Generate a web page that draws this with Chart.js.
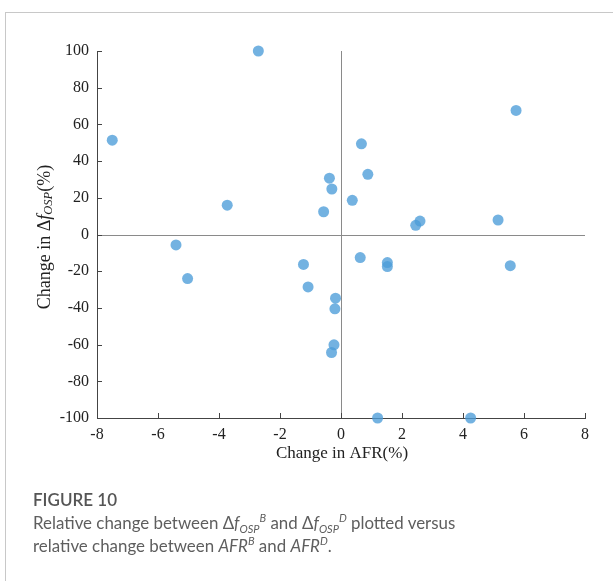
<!DOCTYPE html>
<html><head><meta charset="utf-8">
<script src="https://cdn.jsdelivr.net/npm/chart.js@4/dist/chart.umd.min.js"></script>
<style>
html,body{margin:0;padding:0;background:#fff;width:613px;height:581px;overflow:hidden;}
#frame{position:absolute;left:5px;top:12px;width:620px;height:600px;border-top:1px solid #c8c8c8;border-left:1px solid #c8c8c8;}
#wrap{position:absolute;left:0;top:0;width:613px;height:581px;}
#cap{position:absolute;left:33px;top:488px;font-family:Lato,"Open Sans",sans-serif;color:#5e5e5e;font-size:16.9px;line-height:23px;}
#cap .t{font-weight:600;color:#555;font-size:17px;}
#cap sup,#cap sub{font-size:11px;line-height:0;}
</style></head><body>
<div id="frame"></div>
<div id="wrap"><canvas id="c" width="613" height="581"></canvas></div>
<div id="cap"><div class="t">FIGURE 10</div>
<div>Relative change between Δ<i>f</i><sub><i>OSP</i></sub><sup><i>B</i></sup> and Δ<i>f</i><sub><i>OSP</i></sub><sup><i>D</i></sup> plotted versus</div>
<div>relative change between <i>AFR</i><sup><i>B</i></sup> and <i>AFR</i><sup><i>D</i></sup>.</div></div>
<script>
const afrChange = [-7.50,-2.71,-3.73,-5.41,-5.03,-1.23,-1.08,-0.57,-0.38,-0.30,0.37,0.67,0.88,0.63,1.52,1.52,2.45,2.59,5.15,5.74,5.55,-0.18,-0.20,-0.23,-0.31,1.20,4.25];
const fospChange = [51.4,100,16.0,-5.7,-24.0,-16.3,-28.6,12.4,30.7,24.8,18.6,49.4,32.8,-12.6,-15.3,-17.5,5.0,7.3,7.9,67.6,-17.0,-34.7,-40.5,-60.1,-64.3,-100,-100];
const xTicks = [-8,-6,-4,-2,0,2,4,6,8];
const yTicks = [-100,-80,-60,-40,-20,0,20,40,60,80,100];

const points = afrChange.map((x,i)=>({x:x,y:fospChange[i]}));
const SERIF = '"Liberation Serif","DejaVu Serif",serif';

const deco = {
  id:'deco',
  beforeDatasetsDraw(chart){
    const {ctx} = chart; const xs = chart.scales.x, ys = chart.scales.y;
    ctx.save();
    ctx.strokeStyle = '#8a8a8a'; ctx.lineWidth = 1;
    const x0 = Math.round(xs.getPixelForValue(0))+0.5;
    const y0 = Math.round(ys.getPixelForValue(0))+0.5;
    ctx.beginPath(); ctx.moveTo(x0, ys.top); ctx.lineTo(x0, ys.bottom); ctx.stroke();
    ctx.beginPath(); ctx.moveTo(xs.left, y0); ctx.lineTo(xs.right, y0); ctx.stroke();
    ctx.restore();
  },
  afterDraw(chart){
    const {ctx} = chart; const xs = chart.scales.x, ys = chart.scales.y;
    ctx.save();
    ctx.strokeStyle = '#444'; ctx.lineWidth = 1;
    xTicks.forEach(v=>{
      const p = Math.round(xs.getPixelForValue(v))+0.5;
      ctx.beginPath(); ctx.moveTo(p, ys.bottom); ctx.lineTo(p, ys.bottom-5); ctx.stroke();
    });
    yTicks.forEach(v=>{
      const p = Math.round(ys.getPixelForValue(v))+0.5;
      ctx.beginPath(); ctx.moveTo(xs.left, p); ctx.lineTo(xs.left+5, p); ctx.stroke();
    });
    // x title
    ctx.fillStyle = '#222';
    ctx.font = '17px '+SERIF;
    ctx.textAlign = 'center'; ctx.textBaseline = 'middle';
    ctx.fillText('Change in AFR(%)', 342, 454);
    // y title with italic subscript
    const parts = [
      {t:'Change in \u0394', f:'18px '+SERIF, dy:0},
      {t:'f', f:'italic 18px '+SERIF, dy:0},
      {t:'OSP', f:'italic 12.5px '+SERIF, dy:4},
      {t:'(%)', f:'18px '+SERIF, dy:0}
    ];
    let w = 0;
    parts.forEach(p=>{ctx.font=p.f; p.w=ctx.measureText(p.t).width; w+=p.w;});
    ctx.translate(45, 237);
    ctx.rotate(-Math.PI/2);
    ctx.textAlign='left'; ctx.textBaseline='middle';
    let cx = -w/2;
    parts.forEach(p=>{ctx.font=p.f; ctx.fillText(p.t, cx, p.dy); cx+=p.w;});
    ctx.restore();
  }
};

new Chart(document.getElementById('c'), {
  type:'scatter',
  data:{datasets:[{data:points, backgroundColor:'rgba(76,156,216,0.78)', borderWidth:0, pointRadius:5.5, pointHoverRadius:5.5, clip:false}]},
  options:{
    responsive:false, animation:false,
    layout:{padding:{left:0,top:51,right:28,bottom:0}},
    plugins:{legend:{display:false}, tooltip:{enabled:false}},
    scales:{
      x:{type:'linear', min:-8, max:8,
        afterBuildTicks(s){ s.ticks = xTicks.map(v=>({value:v})); },
        afterFit(s){ s.height = 163; },
        grid:{display:false, drawTicks:false},
        border:{display:true, color:'#444', width:1},
        ticks:{font:{family:SERIF, size:16}, color:'#222', padding:7, maxRotation:0}
      },
      y:{type:'linear', min:-100, max:100,
        afterBuildTicks(s){ s.ticks = yTicks.map(v=>({value:v})); },
        afterFit(s){ s.width = 97; },
        grid:{display:false, drawTicks:false},
        border:{display:true, color:'#444', width:1},
        ticks:{font:{family:SERIF, size:16}, color:'#222', padding:8}
      }
    }
  },
  plugins:[deco]
});
</script>
</body></html>
